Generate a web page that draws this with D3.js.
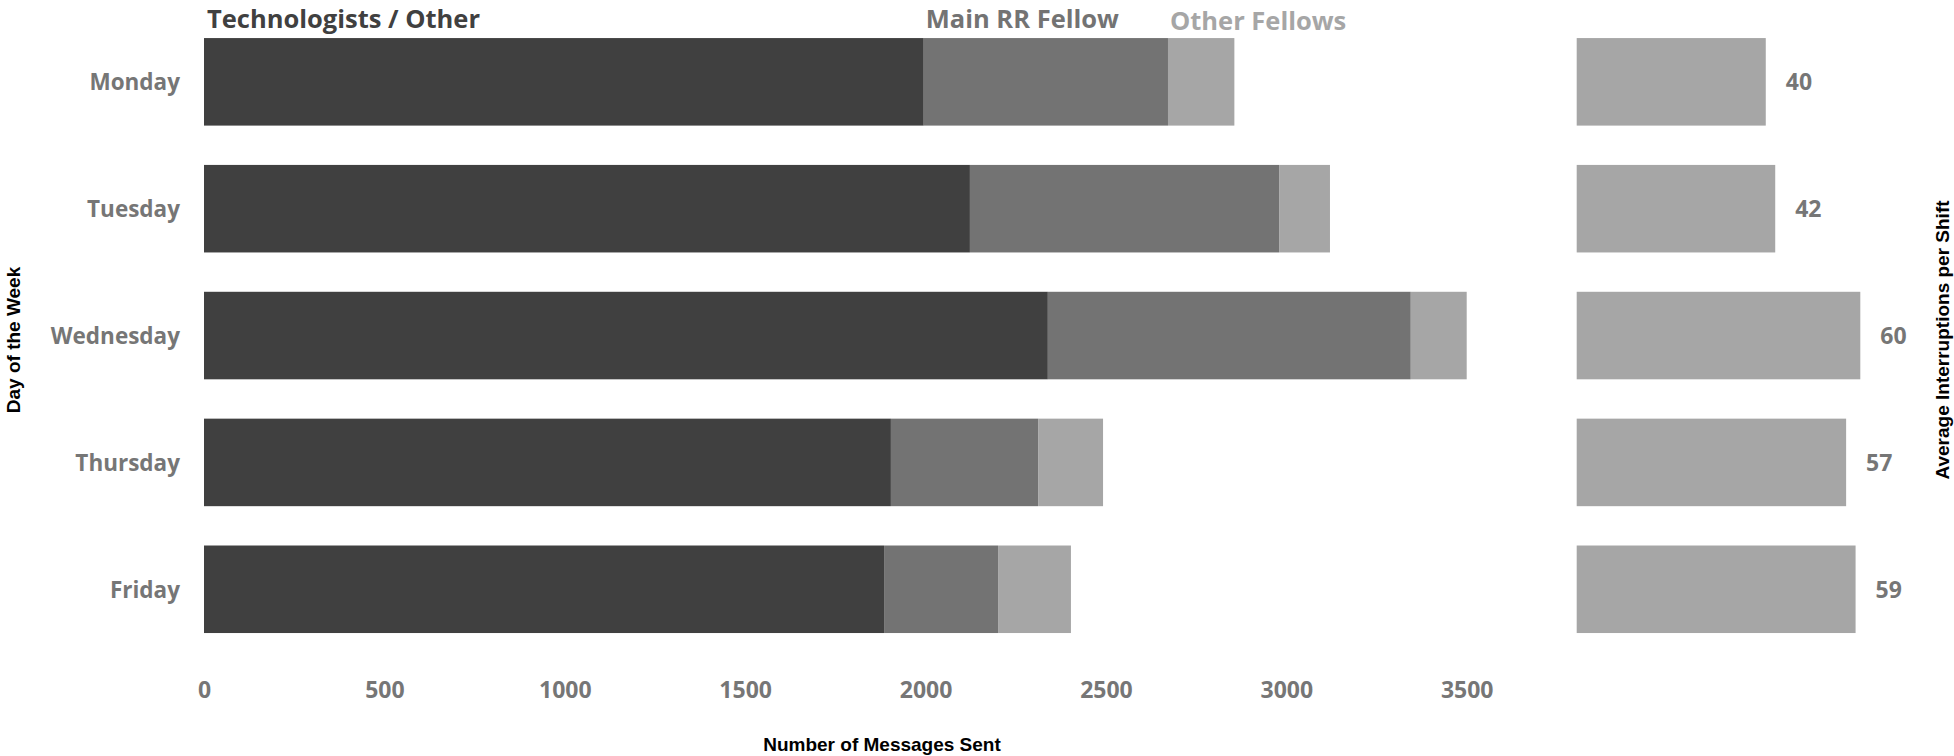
<!DOCTYPE html>
<html>
<head>
<meta charset="utf-8">
<script src="https://cdn.jsdelivr.net/npm/d3@7"></script>
<style>
  html, body { margin: 0; padding: 0; background: #fff; }
  svg { display: block; }
</style>
</head>
<body>
<svg id="chart" width="1954" height="756"></svg>
<script>
// ---- data ----
const days = ["Monday", "Tuesday", "Wednesday", "Thursday", "Friday"];
const technologists = [1995, 2123, 2339, 1904, 1885];
const mainRRFellow = [677, 857, 1006, 408, 316];
const otherFellows = [184, 141, 155, 180, 202];
const interruptions = [40, 42, 60, 57, 59];
const seriesNames = ["Technologists / Other", "Main RR Fellow", "Other Fellows"];
const xTicks = [0, 500, 1000, 1500, 2000, 2500, 3000, 3500];

const colors = ["#404040", "#737373", "#a6a6a6"];
const labelGray = "#767676";
const font = "'Open Sans', 'Noto Sans', sans-serif";
const axisFont = "'Liberation Sans', Arial, sans-serif";

const svg = d3.select("#chart");

const y = d3.scaleBand().domain(days).range([18.4, 652.7])
  .paddingInner(0.31).paddingOuter(0.155);
const x = d3.scaleLinear().domain([0, 3500]).range([204, 1466.7]);
const x2 = d3.scaleLinear().domain([0, 60]).range([1576.7, 1860.3]);

// stacked data
const rows = days.map((d, i) => ({
  day: d, technologists: technologists[i], rr: mainRRFellow[i], other: otherFellows[i]
}));
const stack = d3.stack().keys(["technologists", "rr", "other"]);
const stacked = stack(rows);

svg.append("g").selectAll("g").data(stacked).join("g")
  .attr("fill", (d, i) => colors[i])
  .selectAll("rect").data(d => d).join("rect")
  .attr("x", d => x(d[0]))
  .attr("y", d => y(d.data.day))
  .attr("width", d => x(d[1]) - x(d[0]))
  .attr("height", y.bandwidth());

// day labels
const yAxis = d3.axisLeft(y).tickSize(0).tickPadding(24);
const gy = svg.append("g").attr("transform", `translate(${x(0)},0)`).call(yAxis);
gy.select(".domain").remove();
gy.selectAll("text")
  .attr("font-family", font).attr("font-weight", 700).attr("font-size", 22.5)
  .attr("fill", labelGray).attr("dy", "0.38em");

// x axis
const xAxis = d3.axisBottom(x).tickValues(xTicks).tickSize(0).tickPadding(0).tickFormat(d3.format("d"));
const gx = svg.append("g").attr("transform", `translate(0,690)`).call(xAxis);
gx.select(".domain").remove();
gx.selectAll("text")
  .attr("font-family", font).attr("font-weight", 700).attr("font-size", 23)
  .attr("fill", labelGray).attr("y", 0).attr("dy", "0.36em");

// legend-like series titles
const legendX = [x(0) + 3, x(technologists[0]) + 2, x(technologists[0] + mainRRFellow[0]) + 2];
const legendY = [28, 28, 30];
svg.append("g").selectAll("text").data(seriesNames).join("text")
  .attr("x", (d, i) => legendX[i])
  .attr("y", (d, i) => legendY[i])
  .attr("font-family", font).attr("font-weight", 700).attr("font-size", 25.5)
  .attr("fill", (d, i) => colors[i])
  .text(d => d);

// right panel: interruptions
svg.append("g").selectAll("rect").data(days).join("rect")
  .attr("x", x2(0))
  .attr("y", d => y(d))
  .attr("width", (d, i) => x2(interruptions[i]) - x2(0))
  .attr("height", y.bandwidth())
  .attr("fill", "#a6a6a6");

svg.append("g").selectAll("text").data(days).join("text")
  .attr("x", (d, i) => x2(interruptions[i]) + 20)
  .attr("y", d => y(d) + y.bandwidth() / 2)
  .attr("dy", "0.36em")
  .attr("font-family", font).attr("font-weight", 700).attr("font-size", 23)
  .attr("fill", labelGray)
  .text((d, i) => interruptions[i]);

// axis titles
svg.append("text")
  .attr("transform", `translate(13,340) rotate(-90)`)
  .attr("text-anchor", "middle").attr("dy", "0.35em")
  .attr("font-family", axisFont).attr("font-weight", 700).attr("font-size", 19)
  .attr("fill", "#000").text("Day of the Week");

svg.append("text")
  .attr("x", 882).attr("y", 744)
  .attr("text-anchor", "middle").attr("dy", "0.35em")
  .attr("font-family", axisFont).attr("font-weight", 700).attr("font-size", 19)
  .attr("fill", "#000").text("Number of Messages Sent");

svg.append("text")
  .attr("transform", `translate(1942,340) rotate(-90)`)
  .attr("text-anchor", "middle").attr("dy", "0.35em")
  .attr("font-family", axisFont).attr("font-weight", 700).attr("font-size", 19)
  .attr("fill", "#000").text("Average Interruptions per Shift");
</script>
</body>
</html>
